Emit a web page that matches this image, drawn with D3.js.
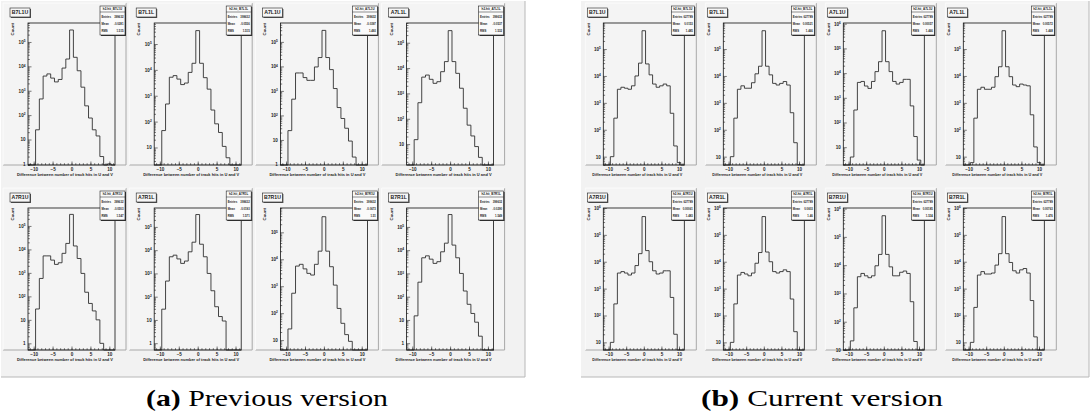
<!DOCTYPE html>
<html>
<head>
<meta charset="utf-8">
<script src="https://cdn.jsdelivr.net/npm/d3@7"></script>
<style>
  body { margin: 0; background: #fff; }
  svg { display: block; }
  .tiny { font-family: "Liberation Sans", Arial, sans-serif; font-weight: bold; fill: #222; }
  .caption { font-family: "Liberation Serif", "DejaVu Serif", serif; fill: #000; }
</style>
</head>
<body>
<svg id="fig" width="1091" height="420"></svg>
<script>
// bin centres, width 1
let binCentres = d3.range(-11, 12)

let padTitles = ['B7L1U', 'B7L1L', 'A7L1U', 'A7L1L', 'A7R1U', 'A7R1L', 'B7R1U', 'B7R1L']

// counts per bin (-11 .. 11), previous version
let prevCounts = [
  [0, 0, 25, 460, 4000, 4900, 3300, 2300, 2900, 8500, 20000, 310000, 23500, 6600, 1400, 240, 76, 25, 14, 2, 0, 1, 0],
  [0, 0, 45, 480, 5200, 6000, 4400, 2700, 3100, 8000, 18000, 330000, 18000, 5000, 1800, 280, 82, 38, 11, 4, 0, 1, 0],
  [0, 0, 24, 460, 5400, 5400, 3500, 2700, 2700, 9500, 23000, 295000, 23000, 7400, 1250, 210, 75, 30, 9, 2, 0, 0, 0],
  [0, 0, 15, 430, 4400, 5300, 3600, 2500, 2900, 7200, 18000, 300000, 18000, 6200, 1600, 260, 56, 21, 8, 3, 0, 0, 0],
  [0, 0, 29, 580, 5300, 5300, 3500, 2300, 2700, 6800, 18000, 310000, 14000, 4100, 950, 150, 50, 24, 10, 1, 0, 0, 0],
  [0, 0, 29, 470, 5200, 6100, 4200, 2700, 3400, 8500, 22000, 340000, 18000, 5200, 1000, 180, 37, 14, 9, 0, 0, 0, 0],
  [0, 0, 26, 550, 5600, 6500, 4400, 3000, 2600, 6500, 20000, 380000, 20000, 5300, 1100, 150, 42, 16, 9, 0, 0, 0, 0],
  [0, 0, 15, 420, 4700, 5700, 4100, 2700, 3200, 8500, 20000, 340000, 16500, 4700, 1000, 175, 47, 19, 8, 2, 0, 0, 0]
]

// counts per bin (-11 .. 11), current version
let currCounts = [
  [0, 0, 10, 270, 3200, 3800, 3500, 3200, 4300, 10000, 30000, 480000, 28000, 11000, 5000, 3800, 4300, 5000, 4300, 410, 25, 6, 0],
  [0, 0, 10, 270, 3200, 4300, 3500, 3500, 5600, 12000, 23000, 480000, 23000, 11000, 5300, 4600, 5300, 6200, 4600, 430, 33, 5, 0],
  [0, 0, 4, 320, 4200, 4600, 3000, 2400, 4600, 11500, 29000, 520000, 29000, 11500, 4600, 3600, 4200, 5600, 5600, 470, 27, 3, 0],
  [0, 0, 6, 270, 3200, 3800, 3200, 3200, 3800, 9400, 22000, 480000, 22000, 9400, 4600, 4000, 5000, 4600, 4300, 360, 23, 6, 0],
  [0, 0, 10, 270, 3800, 4300, 3800, 3200, 3800, 7200, 20000, 480000, 26000, 10000, 4600, 3500, 3800, 4600, 4600, 470, 20, 5, 0],
  [0, 0, 10, 270, 3200, 4000, 3500, 3000, 3800, 8800, 22000, 480000, 23000, 10000, 4300, 3800, 4300, 5000, 4300, 410, 25, 5, 0],
  [0, 0, 21, 310, 3900, 5100, 4200, 3600, 4200, 9500, 24000, 560000, 24000, 8700, 4200, 4200, 5600, 6200, 5100, 510, 20, 0, 0],
  [0, 0, 10, 200, 3200, 4300, 3500, 3500, 3800, 7500, 20000, 480000, 20000, 9400, 4600, 3800, 5000, 5600, 3800, 360, 16, 5, 0]
]

// y axis ranges as drawn
let prevRanges = [[0.9, 6e5], [2.1, 6.5e5], [0.95, 5.9e5], [1.5, 6e5], [0.52, 5.8e5], [0.51, 6.5e5], [4.3, 8e5], [0.51, 6.5e5]]
let currRanges = [[4.9, 9.3e5], [4.9, 9.3e5], [1.9, 1.07e6], [4.9, 9.3e5], [5.2, 1e6], [5.2, 1e6], [10, 1.05e6], [5.2, 1e6]]

// stats box texts
let prevEntries = ['399632', '399632', '399632', '399632', '399632', '399632', '399632', '399632']
let prevMeans = ['-0.0281', '-0.0556', '-0.0397', '-0.0537', '-0.0503', '-0.0193', '-0.0673', '-0.0290']
let prevRms = ['1.515', '1.515', '1.493', '1.532', '1.547', '1.571', '1.51', '1.549']
let currEntries = ['627789', '627789', '627789', '627789', '627789', '627789', '627789', '627789']
let currMeans = ['0.0153', '0.00521', '0.00057', '0.00572', '0.00061', '0.0603', '0.00185', '0.00763']
let currRms = ['1.485', '1.466', '1.466', '1.468', '1.483', '1.46', '1.534', '1.476']

let xLabel = 'Difference between number of track hits in U and V'
let yLabel = 'Count'
let captions = [['(a)', 'Previous version'], ['(b)', 'Current version']]

let svg = d3.select('#fig')

let panels = [
  {counts: prevCounts, ranges: prevRanges, entries: prevEntries, means: prevMeans, rms: prevRms,
    canvas: [1, 1, 524, 376], frameLeft: 28, colStep: 126.2, frameW: 87, padL: 25, padR: 11, capX: 267},
  {counts: currCounts, ranges: currRanges, entries: currEntries, means: currMeans, rms: currRms,
    canvas: [581, 1, 508, 376], frameLeft: 603.3, colStep: 120, frameW: 81, padL: 18, padR: 12, capX: 822}
]

let rowTops = [23, 208]
let frameH = 142

function supLabel(sel, d) {
  let k = Math.round(Math.log10(d))
  sel.text(null)
  if (k === 0) sel.append('tspan').text('1')
  else if (k === 1) sel.append('tspan').text('10')
  else {
    sel.append('tspan').text('10')
    sel.append('tspan').attr('dy', -1.8).attr('font-size', 3.2).text(k)
  }
}

panels.forEach((p, pi) => {
  let c = p.canvas
  let cg = svg.append('g')
  cg.append('rect')
    .attr('x', c[0]).attr('y', c[1]).attr('width', c[2]).attr('height', c[3])
    .attr('fill', '#f2f2f2')
  cg.append('path')
    .attr('d', `M${c[0]},${c[1] + c[3]}H${c[0] + c[2]}V${c[1]}`)
    .attr('stroke', '#b8b8b8').attr('fill', 'none')

  padTitles.forEach((title, i) => {
    let col = i % 4
    let row = Math.floor(i / 4)
    let fx = p.frameLeft + col * p.colStep
    let fy = rowTops[row]
    let fw = p.frameW
    let g = cg.append('g')

    // pad
    let px = fx - p.padL, py = fy - 20, pw = fw + p.padL + p.padR, ph = 162
    g.append('rect').attr('x', px).attr('y', py).attr('width', pw).attr('height', ph)
      .attr('fill', '#f4f4f4')
    g.append('path')
      .attr('d', `M${px},${py + ph}H${px + pw}V${py}`)
      .attr('stroke', '#a8a8a8').attr('fill', 'none')
    g.append('path')
      .attr('d', `M${px},${py + ph}V${py}H${px + pw}`)
      .attr('stroke', '#fbfbfb').attr('fill', 'none')

    let x = d3.scaleLinear().domain([-11.5, 11.5]).range([fx, fx + fw])
    let y = d3.scaleLog().domain(p.ranges[i]).range([fy + frameH, fy]).clamp(true)
    let yMin = p.ranges[i][0]

    // histogram outline
    let pts = [[binCentres[0] - 0.5, yMin]]
    p.counts[i].forEach((v, j) => {
      let vv = v > 0 ? v : yMin
      pts.push([binCentres[j] - 0.5, vv], [binCentres[j] + 0.5, vv])
    })
    pts.push([binCentres[binCentres.length - 1] + 0.5, yMin])
    let line = d3.line().x(d => x(d[0])).y(d => y(d[1]))
    g.append('path').attr('d', line(pts))
      .attr('fill', 'none').attr('stroke', '#303030').attr('stroke-width', 0.9)

    // axes
    let xAxis = g.append('g').attr('transform', `translate(0,${fy + frameH})`)
      .call(d3.axisBottom(x).tickValues([-10, -5, 0, 5, 10]).tickSize(-3.5).tickPadding(2.5))
    let xMinor = g.append('g').attr('transform', `translate(0,${fy + frameH})`)
      .call(d3.axisBottom(x).tickValues(d3.range(-11, 12)).tickSize(-1.8).tickFormat(''))

    let lo = Math.ceil(Math.log10(yMin) - 1e-9), hi = Math.floor(Math.log10(p.ranges[i][1]))
    let decades = d3.range(lo, hi + 1).map(k => Math.pow(10, k))
    let minors = []
    d3.range(lo - 1, hi + 1).forEach(k => {
      for (let m = 2; m < 10; m++) {
        let v = m * Math.pow(10, k)
        if (v >= yMin && v <= p.ranges[i][1]) minors.push(v)
      }
    })
    let yAxis = g.append('g').attr('transform', `translate(${fx},0)`)
      .call(d3.axisLeft(y).tickValues(decades).tickSize(-3.5).tickPadding(2.5))
    let yMinor = g.append('g').attr('transform', `translate(${fx},0)`)
      .call(d3.axisLeft(y).tickValues(minors).tickSize(-1.8).tickFormat(''))

    ;[xAxis, xMinor, yAxis, yMinor].forEach(a => {
      a.select('.domain').remove()
      a.selectAll('line').attr('stroke', '#222').attr('stroke-width', 0.6)
      a.selectAll('text').attr('class', 'tiny').attr('font-size', 4.6).attr('fill', '#222')
    })
    yAxis.selectAll('text').each(function(d) { supLabel(d3.select(this), d) })

    // frame
    g.append('rect').attr('x', fx).attr('y', fy).attr('width', fw).attr('height', frameH)
      .attr('fill', 'none').attr('stroke', '#111').attr('stroke-width', 0.8)

    // axis titles
    g.append('text').attr('class', 'tiny').attr('font-size', 4.3)
      .attr('x', fx + fw - 2).attr('y', fy + frameH + 10.5)
      .attr('textLength', fw + 9).attr('lengthAdjust', 'spacingAndGlyphs')
      .attr('text-anchor', 'end').text(xLabel)
    g.append('text').attr('class', 'tiny').attr('font-size', 4.3)
      .attr('transform', `translate(${fx - (pi === 0 ? 14 : 13)},${fy}) rotate(-90)`)
      .attr('text-anchor', 'end').text(yLabel)

    // title box
    let tb = g.append('g').attr('transform', `translate(${fx - (pi === 0 ? 18 : 16)},${fy - 15})`)
    tb.append('rect').attr('x', 1).attr('y', 1).attr('width', 20).attr('height', 9).attr('fill', '#555')
    tb.append('rect').attr('width', 20).attr('height', 9)
      .attr('fill', '#f6f6f6').attr('stroke', '#222').attr('stroke-width', 0.6)
    tb.append('text').attr('class', 'tiny').attr('font-size', 5.2)
      .attr('x', 10).attr('y', 6.4).attr('text-anchor', 'middle').text(title)

    // stats box
    let sw = pi === 0 ? 25 : 23
    let sb = g.append('g').attr('transform', `translate(${fx + fw - sw + 10},${fy - 17})`)
    sb.append('rect').attr('x', 1).attr('y', 1).attr('width', sw).attr('height', 29).attr('fill', '#333')
    sb.append('rect').attr('width', sw).attr('height', 29)
      .attr('fill', '#fafafa').attr('stroke', '#222').attr('stroke-width', 0.6)
    sb.append('line').attr('x1', 0).attr('x2', sw).attr('y1', 6).attr('y2', 6)
      .attr('stroke', '#222').attr('stroke-width', 0.5)
    sb.append('text').attr('class', 'tiny').attr('font-size', 3)
      .attr('x', sw / 2).attr('y', 4.2).attr('text-anchor', 'middle').text('h2-hit_' + title)
    let rows = [['Entries', p.entries[i]], ['Mean', p.means[i]], ['RMS', p.rms[i]]]
    rows.forEach((r, k) => {
      sb.append('text').attr('class', 'tiny').attr('font-size', 2.8)
        .attr('x', 1.5).attr('y', 11.5 + k * 7.2).text(r[0])
      sb.append('text').attr('class', 'tiny').attr('font-size', 2.8)
        .attr('x', sw - 1.5).attr('y', 11.5 + k * 7.2).attr('text-anchor', 'end').text(r[1])
    })
  })

  let cap = svg.append('text').attr('class', 'caption')
    .attr('x', p.capX).attr('y', 406).attr('text-anchor', 'middle').attr('font-size', 24)
    .attr('textLength', 242).attr('lengthAdjust', 'spacingAndGlyphs')
  cap.append('tspan').attr('font-weight', 'bold').text(captions[pi][0])
  cap.append('tspan').text(' ' + captions[pi][1])
})
</script>
</body>
</html>
